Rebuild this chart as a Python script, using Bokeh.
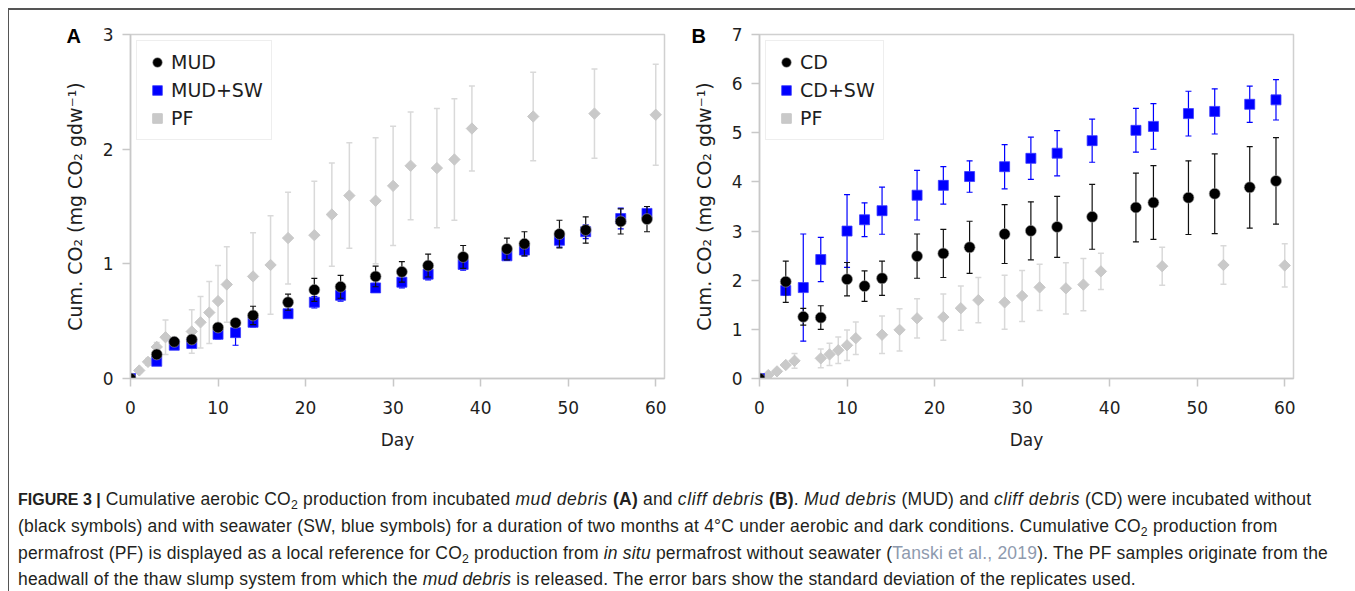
import numpy as np
from bokeh.plotting import figure
from bokeh.models import ColumnDataSource, Legend, LegendItem, Title, Div, FixedTicker
from bokeh.layouts import row, column
from bokeh.embed import file_html
from bokeh.resources import INLINE

# ---------------- data ----------------
days = [0, 3, 5, 7, 10, 12, 14, 18, 21, 24, 28, 31, 34, 38, 43, 45, 49, 52, 56, 59]
pf_days = [0, 1, 2, 3, 4, 7, 8, 9, 10, 11, 14, 16, 18, 21, 23, 25, 28, 30, 32, 35, 37, 39, 46, 53, 60]
pf_mean = [0, 0.07, 0.145, 0.275, 0.36, 0.41, 0.49, 0.575, 0.675, 0.82, 0.89, 0.99, 1.225, 1.25,
           1.43, 1.595, 1.55, 1.68, 1.855, 1.835, 1.91, 2.18, 2.285, 2.31, 2.30]
pf_sd = [0, 0.02, 0.03, 0.04, 0.15, 0.19, 0.225, 0.27, 0.31, 0.33, 0.38, 0.43, 0.40, 0.47,
         0.45, 0.46, 0.55, 0.52, 0.47, 0.52, 0.53, 0.37, 0.385, 0.39, 0.44]

mud_mean = [0, 0.21, 0.32, 0.34, 0.445, 0.485, 0.55, 0.665, 0.773, 0.80, 0.89, 0.93, 0.985,
            1.06, 1.13, 1.175, 1.26, 1.295, 1.37, 1.39]
mud_sd = [0, 0.02, 0.03, 0.03, 0.03, 0.03, 0.08, 0.07, 0.10, 0.10, 0.09, 0.09, 0.10, 0.10,
          0.095, 0.105, 0.12, 0.115, 0.11, 0.11]
mudsw_mean = [0, 0.15, 0.29, 0.305, 0.385, 0.40, 0.49, 0.565, 0.665, 0.725, 0.79, 0.84, 0.91,
              0.995, 1.07, 1.12, 1.205, 1.28, 1.395, 1.44]
mudsw_sd = [0, 0.03, 0.03, 0.03, 0.04, 0.11, 0.04, 0.03, 0.05, 0.05, 0.04, 0.05, 0.05, 0.05,
            0.04, 0.05, 0.06, 0.06, 0.09, 0.06]

cd_mean = [0, 1.97, 1.256, 1.24, 2.02, 1.88, 2.04, 2.49, 2.545, 2.67, 2.94, 3.005, 3.085, 3.29,
           3.48, 3.58, 3.68, 3.76, 3.89, 4.02]
cd_sd = [0, 0.42, 0.17, 0.24, 0.34, 0.31, 0.35, 0.45, 0.49, 0.53, 0.60, 0.59, 0.62, 0.66,
         0.70, 0.75, 0.75, 0.81, 0.83, 0.88]
cdsw_mean = [0, 1.79, 1.85, 2.42, 3.0, 3.23, 3.415, 3.73, 3.93, 4.11, 4.31, 4.48, 4.585, 4.84,
             5.05, 5.13, 5.39, 5.435, 5.58, 5.67]
cdsw_sd = [0, 0.1, 1.09, 0.45, 0.74, 0.345, 0.48, 0.505, 0.38, 0.32, 0.45, 0.43, 0.46, 0.44,
           0.445, 0.465, 0.455, 0.46, 0.37, 0.41]

x_ticks = [0, 10, 20, 30, 40, 50, 60]
ya_ticks = [0, 1, 2, 3]
yb_ticks = [0, 1, 2, 3, 4, 5, 6, 7]

FONT = "DejaVu Sans"
AX_GRAY = "#c8c8c8"
TXT = "#1e1e1e"
BLUE = "#0000ff"
PFGRAY = "#c9c9c9"
PFBAR = "#d9d9d9"


def src(x, m, s):
    m = np.array(m, dtype=float)
    s = np.array(s, dtype=float)
    return ColumnDataSource(dict(x=x, y=m, lo=m - s, hi=m + s))


def panel(letter, y_end, yticks, black, blue, names, width, mb_left, mb_right, lab_off):
    p = figure(width=width, height=445, x_range=(0, 61), y_range=(0, y_end),
               output_backend="svg", toolbar_location=None,
               min_border_left=mb_left, min_border_right=mb_right,
               min_border_top=24, min_border_bottom=77)
    p.grid.visible = False
    p.outline_line_color = "#d0d0d0"
    p.outline_line_width = 1.5
    p.background_fill_color = "white"
    p.border_fill_color = "white"
    p.xaxis.ticker = FixedTicker(ticks=x_ticks)
    p.yaxis.ticker = FixedTicker(ticks=yticks)
    for ax in (p.xaxis[0], p.yaxis[0]):
        ax.axis_line_color = AX_GRAY
        ax.axis_line_width = 1.5
        ax.major_tick_line_color = AX_GRAY
        ax.major_tick_line_width = 1.5
        ax.major_tick_in = 0
        ax.major_tick_out = 8
        ax.minor_tick_out = 0
        ax.minor_tick_in = 0
        ax.major_label_text_font = FONT
        ax.major_label_text_font_size = "17px"
        ax.major_label_text_color = TXT
        ax.axis_label_text_font = FONT
        ax.axis_label_text_font_style = "normal"
        ax.axis_label_text_color = TXT
    p.xaxis.axis_label = "Day"
    p.xaxis.axis_label_text_font_size = "17px"
    p.xaxis.major_label_standoff = 14
    p.xaxis.axis_label_standoff = 13
    p.yaxis.axis_label = "Cum. CO\u2082 (mg CO\u2082 gdw\u207b\u00b9)"
    p.yaxis.axis_label_text_font_size = "19px"
    p.yaxis.major_label_standoff = 9
    p.yaxis.axis_label_standoff = 14

    # PF series (gray diamonds)
    s_pf = src(pf_days, pf_mean, pf_sd)
    p.segment("x", "lo", "x", "hi", source=s_pf, line_color=PFBAR, line_width=1.5)
    p.scatter("x", "hi", source=s_pf, marker="dash", size=6, line_color=PFBAR, line_width=1.5)
    p.scatter("x", "lo", source=s_pf, marker="dash", size=6, line_color=PFBAR, line_width=1.5)
    r_pf = p.scatter("x", "y", source=s_pf, marker="square", angle=np.pi / 4, size=8,
                     fill_color=PFGRAY, line_color=PFGRAY)

    # with seawater (blue squares)
    s_b = src(days, *blue)
    p.segment("x", "lo", "x", "hi", source=s_b, line_color=BLUE, line_width=1.2)
    p.scatter("x", "hi", source=s_b, marker="dash", size=6, line_color=BLUE, line_width=1.2)
    p.scatter("x", "lo", source=s_b, marker="dash", size=6, line_color=BLUE, line_width=1.2)
    r_b = p.scatter("x", "y", source=s_b, marker="square", size=10,
                    fill_color=BLUE, line_color="#3a3aff", line_width=0.8)

    # without seawater (black circles)
    s_k = src(days, *black)
    p.segment("x", "lo", "x", "hi", source=s_k, line_color="#111111", line_width=1.2)
    p.scatter("x", "hi", source=s_k, marker="dash", size=6, line_color="#111111", line_width=1.2)
    p.scatter("x", "lo", source=s_k, marker="dash", size=6, line_color="#111111", line_width=1.2)
    r_k = p.scatter("x", "y", source=s_k, marker="circle", size=11,
                    fill_color="black", line_color="#9a9a9a", line_width=0.6)

    leg = Legend(items=[LegendItem(label=names[0], renderers=[r_k]),
                        LegendItem(label=names[1], renderers=[r_b]),
                        LegendItem(label="PF", renderers=[r_pf])],
                 location="top_left", margin=6, padding=8, spacing=2,
                 glyph_width=24, glyph_height=26, label_height=26, label_standoff=2,
                 label_text_font=FONT, label_text_font_size="19px", label_text_color=TXT,
                 border_line_color="#dedede", border_line_width=1,
                 background_fill_color="white", background_fill_alpha=1)
    p.add_layout(leg)

    p.add_layout(Title(text=letter, align="left", offset=lab_off, standoff=-24,
                       text_font="Liberation Sans", text_font_style="bold",
                       text_font_size="20px", text_color="black"), "above")
    return p


pA = panel("A", 3, ya_ticks, (mud_mean, mud_sd), (mudsw_mean, mudsw_sd), ("MUD", "MUD+SW"),
           width=671, mb_left=121, mb_right=16, lab_off=-64)
pB = panel("B", 7, yb_ticks, (cd_mean, cd_sd), (cdsw_mean, cdsw_sd), ("CD", "CD+SW"),
           width=667, mb_left=79, mb_right=54, lab_off=-68)

sub = '<sub style="font-size:70%;vertical-align:-0.3em;line-height:0">2</sub>'
caption_html = (
    '<div style="font-family:\'Liberation Sans\',Arial,sans-serif;font-size:17.5px;'
    'letter-spacing:0.2px;line-height:26.3px;color:#231f20;white-space:nowrap;'
    'padding:26px 0 0 4px;height:134px;box-sizing:border-box;overflow:hidden;">'
    '<b style="font-size:16px;letter-spacing:0">FIGURE 3 |</b> Cumulative aerobic CO' + sub +
    ' production from incubated '
    '<i style="letter-spacing:0.6px">mud debris</i> <b>(A)</b> and '
    '<i style="letter-spacing:0.6px">cliff debris</i> <b>(B)</b>. '
    '<i style="letter-spacing:0.6px">Mud debris</i> (MUD) '
    'and <i style="letter-spacing:0.6px">cliff debris</i> (CD) were incubated without<br>'
    '(black symbols) and with seawater (SW, blue symbols) for a duration of two months at 4\u00b0C '
    'under aerobic and dark conditions. Cumulative CO' + sub + ' production from<br>'
    'permafrost (PF) is displayed as a local reference for CO' + sub + ' production from '
    '<i>in situ</i> permafrost without seawater (<span style="color:#8e9aae">Tanski et al., 2019</span>). '
    'The PF samples originate from the<br>'
    'headwall of the thaw slump system from which the <i>mud debris</i> is released. '
    'The error bars show the standard deviation of the replicates used.'
    '</div>'
)
cap = Div(text=caption_html, width=1338, height=134)

layout = column(row(pA, pB), cap,
                styles={"border-top": "2px solid #555555", "border-left": "1px solid #555555",
                        "margin-left": "8px", "margin-top": "8px"})

open("out.html", "w").write(file_html(layout, INLINE))
